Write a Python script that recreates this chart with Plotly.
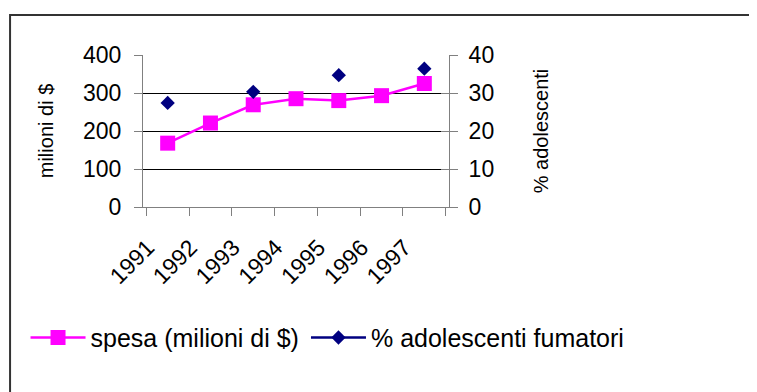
import plotly.graph_objects as go

anni = ["1991", "1992", "1993", "1994", "1995", "1996", "1997"]
spesa = [168, 221, 269, 285, 280, 293, 325]
adolescenti = [27.4, None, 30.3, None, 34.7, None, 36.4]

FONT = "Liberation Sans, Arial, sans-serif"
AX = "#808080"

fig = go.Figure()
fig.add_trace(go.Scatter(
    x=anni, y=spesa, name="spesa (milioni di $)", mode="lines+markers",
    line=dict(color="#FF00FF", width=2.5),
    marker=dict(symbol="square", size=15, color="#FF00FF"),
    yaxis="y", cliponaxis=False, legend="legend"))
fig.add_trace(go.Scatter(
    x=anni, y=adolescenti, name="% adolescenti fumatori", mode="lines+markers",
    line=dict(color="#000080", width=2.5),
    marker=dict(symbol="diamond", size=11, color="#000080"),
    yaxis="y2", cliponaxis=False, legend="legend2"))
# invisible helpers so the grid / inner-tick axes are drawn
for ax in ("y3", "y4"):
    fig.add_trace(go.Scatter(x=[anni[0]], y=[None], yaxis=ax, showlegend=False,
                             hoverinfo="skip", mode="markers"))

# page body has an 8px margin: work in screen pixels, convert to figure pixels
OFF = 8
W, H = 757 - OFF, 392 - OFF
L, R, T, B = 142.7 - OFF, 449.3 - OFF, 55.3 - OFF, 206.7 - OFF
pw, ph = R - L, B - T


def px(xs):
    return (xs - OFF - L) / pw


def py(ys):
    return (B - (ys - OFF)) / ph


legend_common = dict(orientation="h", xref="paper", yref="paper",
                     xanchor="left", yanchor="top",
                     font=dict(size=25, family=FONT), bgcolor="rgba(0,0,0,0)",
                     itemwidth=55, tracegroupgap=0)

fig.update_layout(
    width=W, height=H,
    margin=dict(l=L, r=W - R, t=T, b=H - B, pad=0),
    paper_bgcolor="white", plot_bgcolor="white",
    font=dict(family=FONT, color="black", size=23),
    showlegend=True,
    legend=dict(x=px(25), y=py(314), **legend_common),
    legend2=dict(x=px(306), y=py(314), **legend_common),
    xaxis=dict(type="category", tickson="boundaries", ticks="outside", ticklen=8,
               tickcolor=AX, showline=True, linecolor=AX, linewidth=1,
               showgrid=False, tickangle=-45, tickfont=dict(size=23),
               ticklabelshift=-20, ticklabelstandoff=17,
               zeroline=False, automargin=False),
    yaxis=dict(range=[0, 400], tickvals=[0, 100, 200, 300, 400], ticks="outside",
               ticklen=8, tickcolor=AX, showline=True, linecolor=AX, showgrid=False,
               zeroline=False, tickfont=dict(size=23), ticklabelstandoff=8,
               automargin=False,
               title=dict(text="milioni di $", font=dict(size=20), standoff=24)),
    yaxis2=dict(range=[0, 40], tickvals=[0, 10, 20, 30, 40], overlaying="y", side="right",
                ticks="outside", ticklen=8, tickcolor=AX, showline=True, linecolor=AX,
                showgrid=False, zeroline=False, tickfont=dict(size=23), ticklabelstandoff=6,
                automargin=False,
                title=dict(text="% adolescenti", font=dict(size=20), standoff=40)),
    yaxis3=dict(range=[0, 400], tickvals=[100, 200, 300], overlaying="y", showgrid=True,
                gridcolor="black", gridwidth=1, showticklabels=False, ticks="",
                zeroline=False, showline=False, automargin=False),
    yaxis4=dict(range=[0, 40], tickvals=[0, 10, 20, 30, 40], overlaying="y", side="right",
                ticks="inside", ticklen=8, tickcolor=AX, showticklabels=False,
                showgrid=False, zeroline=False, showline=False, automargin=False),
)

# chart frame (left and top edge of the chart area box)
fig.add_shape(type="rect", xref="paper", yref="paper",
              x0=px(9.5), x1=px(800), y0=py(450), y1=py(15.5),
              line=dict(color="#333333", width=2), fillcolor="rgba(0,0,0,0)", layer="below")

fig.write_html("out.html")
